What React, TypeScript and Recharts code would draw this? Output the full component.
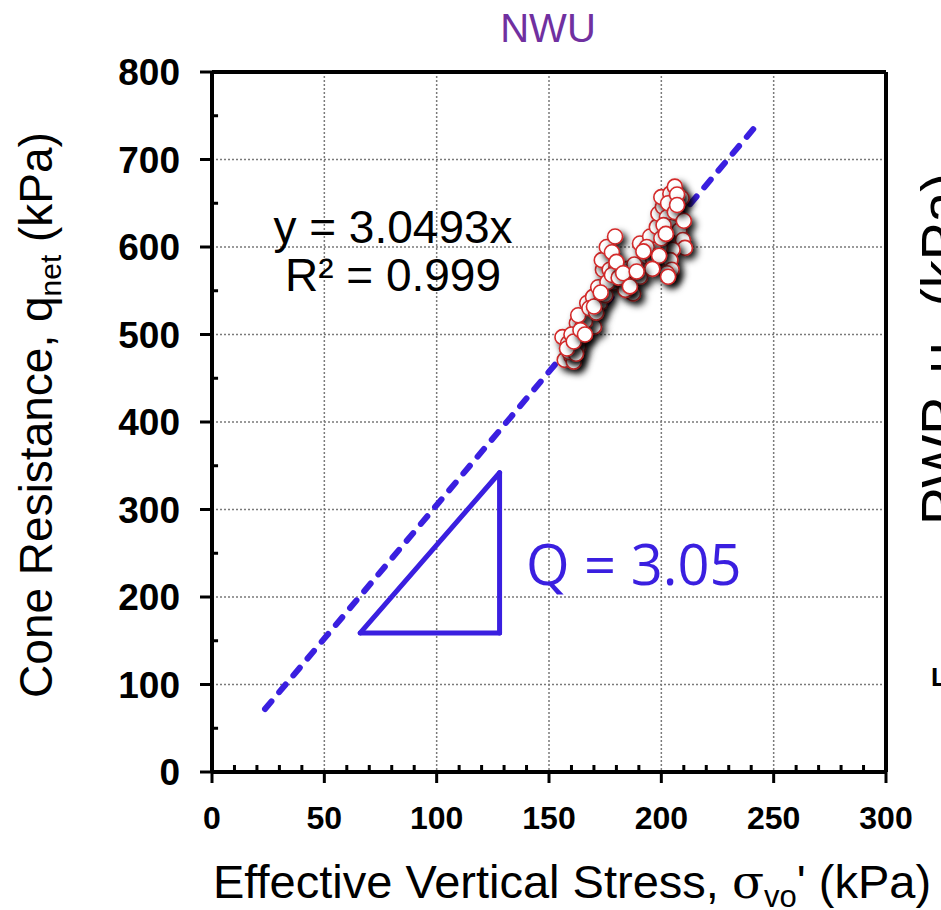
import React from 'react';
import { ScatterChart, Scatter, XAxis, YAxis, CartesianGrid, ReferenceLine } from 'recharts';

const xTicks = [0, 50, 100, 150, 200, 250, 300];
const yTicks = [0, 100, 200, 300, 400, 500, 600, 700, 800];
const xMinor = [10, 20, 30, 40, 60, 70, 80, 90, 110, 120, 130, 140, 160, 170, 180, 190, 210, 220, 230, 240, 260, 270, 280, 290];
const yMinor = [50, 150, 250, 350, 450, 550, 650, 750];

// effective vertical stress (kPa) / net cone resistance (kPa)
const stressX = [
  157, 160, 161, 156, 158.5, 163, 162.4, 165, 164, 168, 170, 167, 169.6, 172.7, 171.9, 174, 173.5, 175.7,
  179.4, 177, 180, 182.4, 178.6, 183, 186, 187.4, 184, 190.5, 190.5, 193.5, 196.4, 195, 198, 198.7, 200.7,
  200, 204, 206, 209, 205, 202.5, 204.6, 208, 209.6, 210.5, 205, 204, 204.6, 202.5, 199.4, 197, 193.5,
  159, 162, 160, 166, 163, 168, 171, 175, 176, 178, 181, 185, 188, 192, 200, 201, 203, 207, 206, 210,
  199, 196, 178, 203, 158, 161, 164, 166, 170, 173, 180, 183, 186, 189, 202, 207,
];
const qnetY = [
  471, 475, 469, 497, 490, 486, 513, 509, 497, 520, 509, 536, 543, 536, 554, 574, 585, 600,
  612, 574, 577, 570, 559, 559, 562, 547, 551, 566, 604, 589, 585, 612, 623, 638, 646,
  657, 661, 669, 656, 646, 634, 623, 619, 608, 599, 597, 585, 574, 570, 600, 597, 600,
  480, 478, 500, 515, 522, 530, 525, 545, 560, 568, 565, 575, 580, 595, 610, 625, 650, 660, 640, 630,
  590, 575, 594, 566, 484, 492, 505, 500, 532, 548, 583, 570, 555, 572, 615, 648,
];

// fitted line y = 3.0493x, ends as drawn
const trendX = [23.6, 242.5];
const trendY = [72, 739.5];

// slope triangle corners
const triX = [66, 128, 128];
const triY = [159, 159, 342];

const points = stressX.map((x, i) => ({ x, y: qnetY[i] }));

const BLUE = '#3a1fe0';
const FONT = '"Liberation Sans", Arial, sans-serif';

const Dot = (props: any) => (
  <circle
    cx={props.cx}
    cy={props.cy}
    r={7.5}
    fill="#fff"
    stroke="#d42a2a"
    strokeWidth={1.6}
    filter="url(#dotShadow)"
  />
);

export default function App() {
  return (
    <div style={{ position: 'absolute', left: 0, top: 0 }}>
      <ScatterChart
        width={941}
        height={910}
        margin={{ top: 72, right: 55, left: 100, bottom: 78 }}
        style={{ fontFamily: FONT }}
      >
        <defs>
          <filter id="dotShadow" x="-100%" y="-100%" width="300%" height="300%">
            <feDropShadow dx="4" dy="4" stdDeviation="3.5" floodColor="#000" floodOpacity="0.9" />
          </filter>
        </defs>
        <CartesianGrid stroke="#7a7a7a" strokeDasharray="2 2" strokeWidth={1.5} />
        <XAxis
          type="number"
          dataKey="x"
          domain={[0, 300]}
          ticks={xTicks}
          height={60}
          tickSize={11}
          tickMargin={23}
          axisLine={{ stroke: '#000', strokeWidth: 4 }}
          tickLine={{ stroke: '#000', strokeWidth: 3 }}
          tick={{ fill: '#000', fontSize: 32, fontWeight: 'bold', fontFamily: FONT }}
        />
        <YAxis
          type="number"
          dataKey="y"
          domain={[0, 800]}
          ticks={yTicks}
          width={112}
          tickSize={12}
          tickMargin={20}
          axisLine={{ stroke: '#000', strokeWidth: 4 }}
          tickLine={{ stroke: '#000', strokeWidth: 3 }}
          tick={{ fill: '#000', fontSize: 37, fontWeight: 'bold', fontFamily: FONT }}
        />
        {xMinor.map((v) => (
          <ReferenceLine key={'xm' + v} segment={[{ x: v, y: 0 }, { x: v, y: 8 }]} stroke="#000" strokeWidth={3} />
        ))}
        {yMinor.map((v) => (
          <ReferenceLine key={'ym' + v} segment={[{ x: 0, y: v }, { x: 2.7, y: v }]} stroke="#000" strokeWidth={3} />
        ))}
        <ReferenceLine y={800} stroke="#000" strokeWidth={4} />
        <ReferenceLine x={300} stroke="#000" strokeWidth={4} />
        <Scatter data={points} shape={<Dot />} isAnimationActive={false} />
        <ReferenceLine
          segment={[{ x: trendX[0], y: trendY[0] }, { x: trendX[1], y: trendY[1] }]}
          stroke={BLUE}
          strokeWidth={6}
          strokeDasharray="10 12"
          strokeLinecap="round"
        />
        {triX.map((x, i) => {
          const j = (i + 1) % triX.length;
          return (
            <ReferenceLine
              key={'tri' + i}
              segment={[{ x, y: triY[i] }, { x: triX[j], y: triY[j] }]}
              stroke={BLUE}
              strokeWidth={5}
              strokeLinecap="round"
            />
          );
        })}
        <text x={548} y={42} textAnchor="middle" fill="#7030a0" fontSize={40} fontFamily={FONT}>
          NWU
        </text>
        <text x={393} y={243} textAnchor="middle" fill="#000" fontSize={46} fontFamily={FONT}>
          y = 3.0493x
        </text>
        <text x={393} y={291} textAnchor="middle" fill="#000" fontSize={46} fontFamily={FONT}>
          R² = 0.999
        </text>
        <text x={526} y={585} fill={BLUE} fontSize={56} fontFamily='"Open Sans", sans-serif'>
          Q = 3.05
        </text>
        <text x={52} y={415} transform="rotate(-90, 52, 415)" textAnchor="middle" fill="#000" fontSize={46} fontFamily={FONT}>
          Cone Resistance, q<tspan fontSize={30} dy={9}>net</tspan>
          <tspan dy={-9}> (kPa)</tspan>
        </text>
        <text x={572} y={898} textAnchor="middle" fill="#000" fontSize={47} fontFamily={FONT}>
          Effective Vertical Stress, <tspan fontFamily='"DejaVu Serif", serif'>σ</tspan>
          <tspan fontSize={31} dy={9}>vo</tspan>
          <tspan dy={-9}>' (kPa)</tspan>
        </text>
        <text x={960} y={349} transform="rotate(-90, 960, 349)" textAnchor="middle" fill="#000" fontSize={56} fontFamily={FONT}>
          PWP, u<tspan fontSize={36} dy={10}>2</tspan>
          <tspan dy={-10}> (kPa)</tspan>
        </text>
        <text x={931} y={686} fill="#000" fontSize={26} fontWeight="bold" fontFamily={FONT}>
          L
        </text>
      </ScatterChart>
    </div>
  );
}
